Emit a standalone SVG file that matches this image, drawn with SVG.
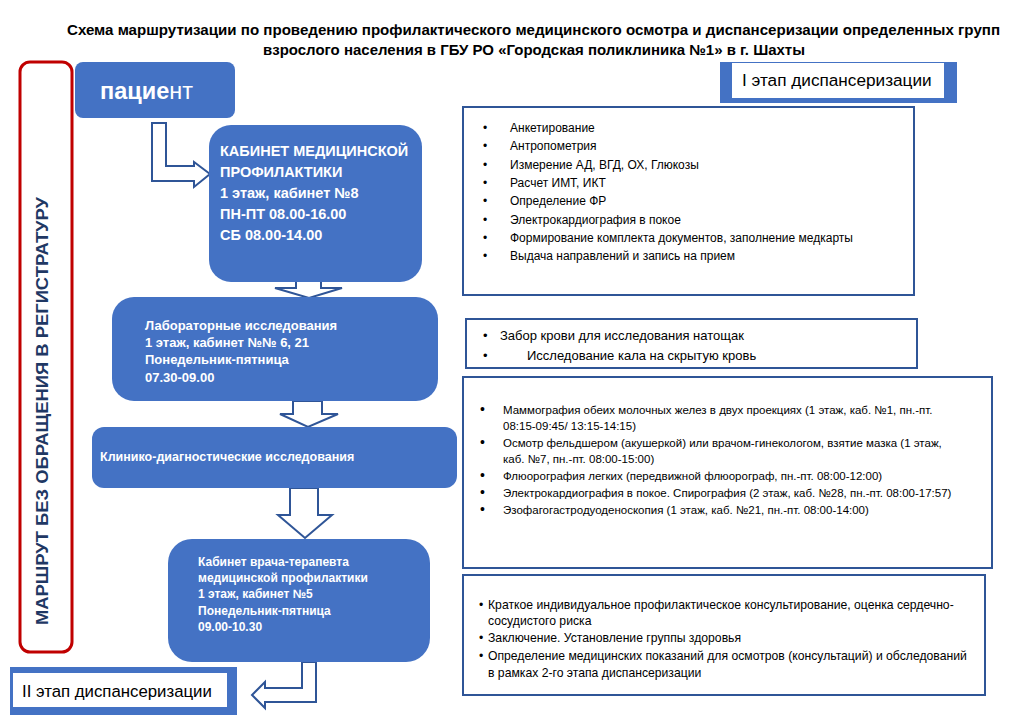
<svg xmlns="http://www.w3.org/2000/svg" width="1024" height="724" viewBox="0 0 1024 724">
<style>
text{font-family:"Liberation Sans",Arial,sans-serif}
.title{font-size:14.5px;font-weight:bold;fill:#000}
.blue{fill:#4472c4}
.wt{fill:#fff;font-weight:bold}
.box{fill:#fff;stroke:#2f5597;stroke-width:2}
.li{font-size:12px;fill:#000}
.li2{font-size:11.5px;fill:#000}
.li3{font-size:12.2px;fill:#000}
.bul{font-size:14px}
.arr{fill:#fff;stroke:#2f5597;stroke-width:2;stroke-linejoin:miter}
</style>
<rect width="1024" height="724" fill="#fff"/>
<g id="title">
<text class="title" x="67" y="35" textLength="933" lengthAdjust="spacingAndGlyphs">Схема маршрутизации по проведению профилактического медицинского осмотра и диспансеризации определенных групп</text>
<text class="title" x="263" y="55" textLength="542" lengthAdjust="spacingAndGlyphs">взрослого населения в ГБУ РО «Городская поликлиника №1» в г. Шахты</text>
</g>
<g id="route">
<rect x="20" y="62" width="52" height="590" rx="10" fill="#fff" stroke="#c00000" stroke-width="3"/>
<text transform="translate(48,411) rotate(-90)" text-anchor="middle" font-size="17" font-weight="bold" fill="#1f3864" textLength="428" lengthAdjust="spacingAndGlyphs">МАРШРУТ БЕЗ ОБРАЩЕНИЯ В РЕГИСТРАТУРУ</text>
</g>
<g id="connectors">
<path class="arr" d="M152,123 L166,123 L166,166 L194,166 L194,162 L210,174 L194,187 L194,181 L152,181 Z" stroke="#2e75b6"/>
<path class="arr" d="M296,281 L321,281 L321,288 L342,288 L309,298 L275,288 L296,288 Z"/>
<path class="arr" d="M293,401 L322,401 L322,414 L338,414 L308,427 L280,414 L293,414 Z"/>
<path class="arr" d="M290,488 L318,488 L318,515 L332,515 L305,538 L278,515 L290,515 Z"/>
<path class="arr" d="M302,662 L316,662 L316,702 L265,702 L265,708 L252,695 L265,682 L265,688 L302,688 Z"/>
</g>
<g id="patient">
<rect class="blue" x="75" y="62" width="160" height="56" rx="8"/>
<text x="100" y="99" font-size="23.5" fill="#fff"><tspan font-weight="bold">пацие</tspan>нт</text>
</g>
<g id="kabinet">
<rect class="blue" x="209" y="125" width="213" height="157" rx="22"/>
<text class="wt" font-size="14.5"><tspan x="220" y="156">КАБИНЕТ МЕДИЦИНСКОЙ</tspan><tspan x="220" y="177">ПРОФИЛАКТИКИ</tspan><tspan x="220" y="198">1 этаж, кабинет №8</tspan><tspan x="220" y="219">ПН-ПТ 08.00-16.00</tspan><tspan x="220" y="240">СБ 08.00-14.00</tspan></text>
</g>
<g id="lab">
<rect class="blue" x="112" y="297" width="326" height="104" rx="22"/>
<text class="wt" font-size="13"><tspan x="145" y="330">Лабораторные исследования</tspan><tspan x="145" y="347">1 этаж, кабинет №№ 6, 21</tspan><tspan x="145" y="364">Понедельник-пятница</tspan><tspan x="145" y="382">07.30-09.00</tspan></text>
</g>
<g id="klinik">
<rect class="blue" x="92" y="427" width="365" height="61" rx="12"/>
<text class="wt" font-size="12.5" x="100" y="461">Клинико-диагностические исследования</text>
</g>
<g id="therapist">
<rect class="blue" x="168" y="539" width="262" height="123" rx="24"/>
<text class="wt" font-size="12"><tspan x="198" y="566">Кабинет врача-терапевта</tspan><tspan x="198" y="582">медицинской профилактики</tspan><tspan x="198" y="598">1 этаж, кабинет  №5</tspan><tspan x="198" y="615">Понедельник-пятница</tspan><tspan x="198" y="631">09.00-10.30</tspan></text>
</g>
<g id="stage1">
<rect class="blue" x="720" y="62" width="237" height="41"/>
<rect x="732" y="63" width="212" height="35" fill="#fff"/>
<text x="742" y="86" font-size="17.2" fill="#000">I этап диспансеризации</text>
</g>
<g id="stage2">
<rect class="blue" x="10" y="667" width="227" height="48"/>
<rect x="13" y="673" width="214" height="34" fill="#fff"/>
<text x="22" y="697" font-size="16.8" fill="#000">II этап диспансеризации</text>
</g>
<g id="list1">
<rect class="box" x="463" y="107" width="451" height="188"/>
<g class="li">
<text x="483" y="132">•</text><text x="510" y="132">Анкетирование</text>
<text x="483" y="150">•</text><text x="510" y="150">Антропометрия</text>
<text x="483" y="169">•</text><text x="510" y="169">Измерение АД, ВГД, ОХ, Глюкозы</text>
<text x="483" y="187">•</text><text x="510" y="187">Расчет ИМТ, ИКТ</text>
<text x="483" y="205">•</text><text x="510" y="205">Определение ФР</text>
<text x="483" y="224">•</text><text x="510" y="224">Электрокардиография в покое</text>
<text x="483" y="242">•</text><text x="510" y="242">Формирование комплекта документов, заполнение медкарты</text>
<text x="483" y="260">•</text><text x="510" y="260">Выдача направлений и запись на прием</text>
</g>
</g>
<g id="list2">
<rect class="box" x="466" y="319" width="451" height="49"/>
<g font-size="13" fill="#000">
<text x="483" y="340">•</text><text x="500" y="340">Забор крови для исследования натощак</text>
<text x="483" y="360">•</text><text x="527" y="360">Исследование кала на скрытую кровь</text>
</g>
</g>
<g id="list3">
<rect class="box" x="463" y="377" width="529" height="191"/>
<g class="li2">
<text class="bul" x="480" y="414">•</text><text x="503" y="414">Маммография обеих молочных желез в двух проекциях (1 этаж, каб. №1, пн.-пт.</text>
<text x="503" y="430">08:15-09:45/ 13:15-14:15)</text>
<text class="bul" x="480" y="447">•</text><text x="503" y="447">Осмотр фельдшером (акушеркой) или врачом-гинекологом, взятие мазка (1 этаж,</text>
<text x="503" y="463">каб. №7, пн.-пт. 08:00-15:00)</text>
<text class="bul" x="480" y="480">•</text><text x="503" y="480">Флюорография легких (передвижной флюорограф, пн.-пт. 08:00-12:00)</text>
<text class="bul" x="480" y="497">•</text><text x="503" y="497">Электрокардиография в покое. Спирография (2 этаж, каб. №28, пн.-пт. 08:00-17:57)</text>
<text class="bul" x="480" y="514">•</text><text x="503" y="514">Эзофагогастродуоденоскопия (1 этаж, каб. №21, пн.-пт. 08:00-14:00)</text>
</g>
</g>
<g id="list4">
<rect class="box" x="463" y="575" width="522" height="120"/>
<g class="li3">
<text x="479" y="609">•</text><text x="488" y="609">Краткое индивидуальное профилактическое консультирование, оценка сердечно-</text>
<text x="488" y="625">сосудистого риска</text>
<text x="479" y="642">•</text><text x="488" y="642">Заключение. Установление группы здоровья</text>
<text x="479" y="660">•</text><text x="488" y="660">Определение медицинских показаний для осмотров (консультаций) и обследований</text>
<text x="488" y="677">в рамках 2-го этапа диспансеризации</text>
</g>
</g>
</svg>
